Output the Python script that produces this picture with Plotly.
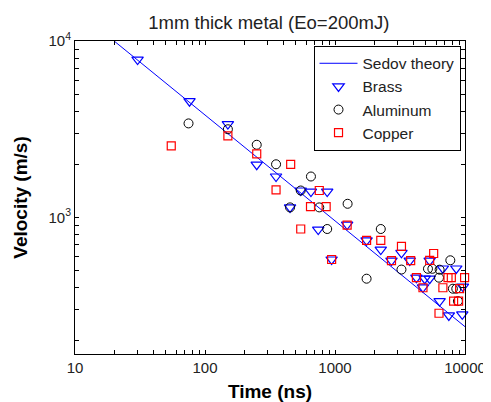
import numpy as np
import plotly.graph_objects as go

# Sedov theory line (v ~ t^-0.6)
sedov_t = [20, 10000]
sedov_v = [10000, 240]

brass_t = [30.3, 76, 150, 250, 352, 545, 653, 871, 451, 743, 1240, 1750, 2250, 3245,
           942, 2720, 3760, 5350, 6760, 8570, 4230, 4900, 5350, 4750, 9640, 6380, 7510, 9530]
brass_v = [7850, 4560, 3380, 1990, 1705, 1420, 1400, 1400, 1139, 852, 910, 741, 657, 630,
           577, 569, 569, 569, 513, 513, 455, 449, 449, 401, 405, 335, 278, 282]

alum_t = [74.7, 150, 250, 352, 653, 545, 451, 757, 1250, 871, 2250, 1750, 3245, 7710,
          5190, 5610, 6380, 6310, 8070, 8570, 8820, 7260]
alum_v = [3410, 3160, 2580, 2000, 1705, 1420, 1139, 1139, 1194, 859, 859, 449, 506, 571,
          511, 511, 505, 455, 394, 394, 335, 167.5]

copper_t = [55, 150, 250, 456, 352, 757, 648, 855, 545, 1240, 1750, 2250, 3245, 942,
            2720, 3820, 5740, 5350, 4230, 7400, 7850, 9930, 4750, 6760, 9090, 8170, 8930, 6310]
copper_v = [2540, 2900, 2290, 2000, 1430, 1420, 1150, 1150, 859, 904, 741, 741, 685, 577,
            569, 569, 624, 571, 455, 455, 455, 455, 399, 399, 394, 335, 335, 286]

x_ticks = [10, 100, 1000, 10000]
y_ticks = [1000, 10000]

xt = [m * 10 ** e for e in range(1, 4) for m in range(1, 10)] + [10000]
xl = [str(v) if v in x_ticks else " " for v in xt]
yt = [m * 10 ** e for e in range(2, 4) for m in range(1, 10)] + [10000]
yt = [v for v in yt if v >= 168]
yl = [("10<sup>%d</sup>" % round(np.log10(v))) if v in y_ticks else " " for v in yt]

FONT = "Liberation Sans"

fig = go.Figure()
fig.add_trace(go.Scatter(x=sedov_t, y=sedov_v, mode="lines", name="Sedov theory",
                         line=dict(color="#0000ff", width=1)))
fig.add_trace(go.Scatter(x=brass_t, y=brass_v, mode="markers", name="Brass", cliponaxis=False,
                         marker=dict(symbol="triangle-down-open", size=10, color="#0000ff",
                                     line=dict(width=1.2, color="#0000ff"))))
fig.add_trace(go.Scatter(x=alum_t, y=alum_v, mode="markers", name="Aluminum", cliponaxis=False,
                         marker=dict(symbol="circle-open", size=9, color="#000000",
                                     line=dict(width=1, color="#000000"))))
fig.add_trace(go.Scatter(x=copper_t, y=copper_v, mode="markers", name="Copper", cliponaxis=False,
                         marker=dict(symbol="square-open", size=8, color="#ff0000",
                                     line=dict(width=1.2, color="#ff0000"))))

axis_common = dict(type="log", showgrid=False, zeroline=False, showline=True, linecolor="black",
                   linewidth=1, mirror="ticks", ticks="inside", ticklen=4, tickcolor="black",
                   automargin=False, tickangle=0,
                   tickfont=dict(family=FONT, size=15, color="#222"))

# page body has an 8px default margin, so the figure is sized to fit the 491x402 window
fig.update_layout(
    width=483, height=394,
    margin=dict(l=66.5, r=25.5, t=32.7, b=48),
    paper_bgcolor="white", plot_bgcolor="white",
    title=dict(text="1mm thick metal (Eo=200mJ)", x=0.540, xanchor="center", y=0.964, yanchor="middle",
               font=dict(family=FONT, size=18.5, color="#222")),
    xaxis=dict(range=[1, 4], tickvals=xt, ticktext=xl,
               title=dict(text="<b>Time (ns)</b>",
                          font=dict(family=FONT, size=19, color="black")),
               **axis_common),
    yaxis=dict(range=[np.log10(168), 4], tickvals=yt, ticktext=yl,
               title=dict(text="<b>Velocity (m/s)</b>",
                          font=dict(family=FONT, size=19, color="black")),
               **axis_common),
    legend=dict(x=0.9885, y=0.985, xanchor="right", yanchor="top", bgcolor="white",
                bordercolor="black", borderwidth=1,
                font=dict(family=FONT, size=15.5, color="#222"),
                tracegroupgap=0, itemwidth=38),
    showlegend=True,
)

fig.write_html("out.html")
